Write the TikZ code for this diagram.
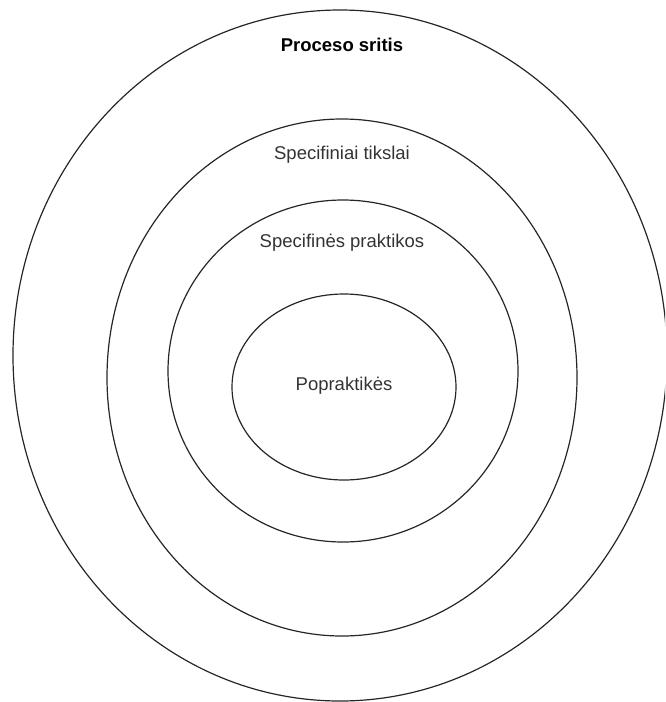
\documentclass[tikz,border=0pt]{standalone}
\usepackage{fontspec}
\setmainfont{Liberation Sans}
\usetikzlibrary{shapes.geometric}
\begin{document}
\begin{tikzpicture}[x=1pt,y=-1pt,
  ring/.style={draw=black!85, line width=1.2pt, ellipse, inner sep=0pt},
  lbl/.style={text=black!80, font=\fontsize{18.5}{22}\selectfont, inner sep=0pt},
  lblb/.style={text=black, font=\fontsize{18.5}{22}\selectfont\bfseries, inner sep=0pt}]
\useasboundingbox (0,0) rectangle (665,702);
\clip (0,0) rectangle (665,702);
\node[ring, minimum width=654pt, minimum height=691pt] (outer) at (340,355.5) {};
\node[ring, minimum width=470pt, minimum height=517pt] (second) at (342,377.5) {};
\node[ring, minimum width=350pt, minimum height=342pt] (third) at (343,371) {};
\node[ring, minimum width=224pt, minimum height=186pt] (inner) at (344,387) {};
\node[lblb] (t1) at (342,45) {Proceso sritis};
\node[lbl] (t2) at (342,155) {Specifiniai tikslai};
\node[lbl] (t3) at (342,243) {Specifinės praktikos};
\node[lbl] (t4) at (344,386) {Popraktikės};
\end{tikzpicture}
\end{document}
